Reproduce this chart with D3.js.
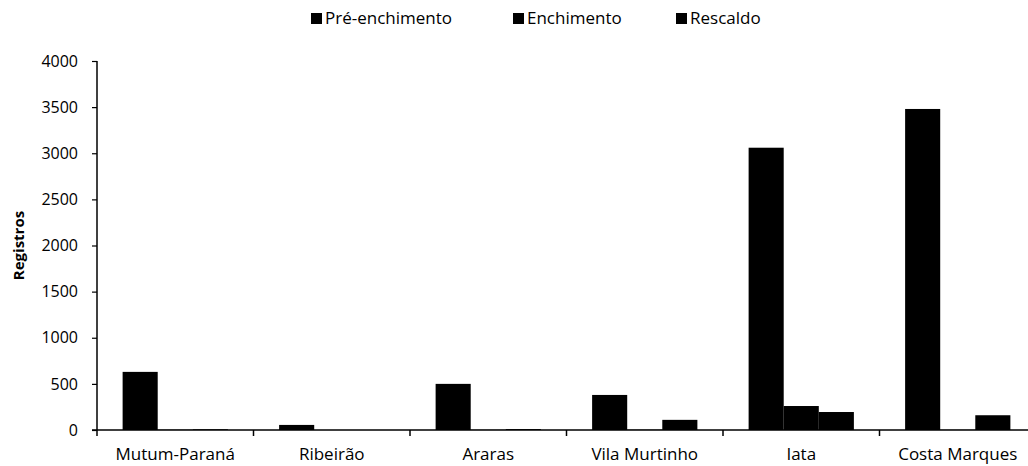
<!DOCTYPE html>
<html>
<head>
<meta charset="utf-8">
<script src="https://cdn.jsdelivr.net/npm/d3@7"></script>
<style>
  html, body { margin: 0; padding: 0; background: #fff; }
  svg { display: block; font-family: "Open Sans", "DejaVu Sans", sans-serif; }
</style>
</head>
<body>
<svg id="chart" width="1028" height="466"></svg>
<script>
// Registros por localidade e fase
const locais = ["Mutum-Paraná", "Ribeirão", "Araras", "Vila Murtinho", "Iata", "Costa Marques"];
const fases = ["Pré-enchimento", "Enchimento", "Rescaldo"];
const preEnchimento = [630, 55, 500, 380, 3060, 3480];
const enchimento = [3, 0, 2, 3, 260, 2];
const rescaldo = [8, 0, 10, 110, 195, 160];
const yTicks = [0, 500, 1000, 1500, 2000, 2500, 3000, 3500, 4000];

const series = [preEnchimento, enchimento, rescaldo];

const svg = d3.select("#chart");
const margin = { left: 97, right: -8, top: 61, bottom: 36 };
const W = 1028, H = 466;

const x = d3.scaleBand().domain(locais).range([margin.left, W - margin.right]).paddingInner(0).paddingOuter(0);
const xInner = d3.scaleBand().domain(fases).range([0, x.bandwidth()]).paddingInner(0).paddingOuter(0.73);
const y = d3.scaleLinear().domain([0, 4000]).range([H - margin.bottom, margin.top]);

// bars
const rows = locais.map((l, i) => ({ local: l, values: fases.map((f, j) => ({ fase: f, v: series[j][i] })) }));
const g = svg.append("g");
g.selectAll("g.cat").data(rows).join("g")
  .attr("class", "cat")
  .attr("transform", d => `translate(${x(d.local)},0)`)
  .selectAll("rect").data(d => d.values).join("rect")
  .attr("x", d => xInner(d.fase))
  .attr("width", xInner.bandwidth())
  .attr("y", d => y(d.v))
  .attr("height", d => y(0) - y(d.v))
  .attr("fill", "#000");

// y axis
const yAxis = d3.axisLeft(y).tickValues(yTicks).tickFormat(d3.format("d"))
  .tickSize(5).tickSizeOuter(0).tickPadding(14);
const ya = svg.append("g").attr("transform", `translate(${margin.left},0)`).call(yAxis);
ya.select(".domain").attr("stroke", "#000").attr("stroke-width", 1.5).attr("d", `M0,${y(4000)}V${y(0)}`);
ya.selectAll(".tick line").attr("stroke", "#000").attr("stroke-width", 1.2);
ya.selectAll(".tick text").attr("font-size", 16).attr("fill", "#000")
  .attr("font-family", "'Open Sans', sans-serif");

// x axis with category boundary ticks
const xa = svg.append("g").attr("transform", `translate(0,${y(0)})`);
xa.append("line").attr("x1", margin.left - 5).attr("x2", W).attr("y1", 0).attr("y2", 0)
  .attr("stroke", "#000").attr("stroke-width", 1.5);
const bounds = locais.map(l => x(l)).concat([x(locais[locais.length - 1]) + x.bandwidth()]);
xa.selectAll("line.b").data(bounds).join("line")
  .attr("class", "b")
  .attr("x1", d => d).attr("x2", d => d).attr("y1", 0).attr("y2", 6)
  .attr("stroke", "#000").attr("stroke-width", 1.5);
xa.selectAll("text").data(locais).join("text")
  .attr("x", d => x(d) + x.bandwidth() / 2)
  .attr("y", 30)
  .attr("text-anchor", "middle")
  .attr("font-size", 17)
  .attr("fill", "#000")
  .text(d => d);

// y title
svg.append("text")
  .attr("transform", `translate(24,${(y(0) + y(4000)) / 2}) rotate(-90)`)
  .attr("text-anchor", "middle")
  .attr("font-size", 15)
  .attr("font-weight", "bold")
  .text("Registros");

// legend
const legendX = [311, 513, 676];
const leg = svg.append("g").selectAll("g").data(fases).join("g")
  .attr("transform", (d, i) => `translate(${legendX[i]},19)`);
leg.append("rect").attr("x", 0).attr("y", -6).attr("width", 11).attr("height", 11).attr("fill", "#000");
leg.append("text").attr("x", 14).attr("y", 5).attr("font-size", 17).attr("fill", "#000").text(d => d);
</script>
</body>
</html>
